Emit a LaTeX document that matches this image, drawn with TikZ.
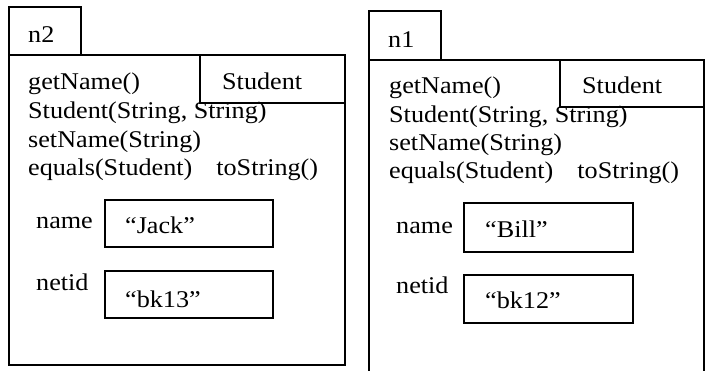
\documentclass[tikz,border=0pt]{standalone}
\usepackage{fontspec}
\setmainfont[FakeStretch=1.09]{Liberation Serif}
\begin{document}
\begin{tikzpicture}[x=1pt,y=-1pt,
  box/.style={draw,line width=1.4pt},
  txt/.style={anchor=base west,inner sep=0pt,font=\fontsize{24}{29}\selectfont}]
\useasboundingbox (0,0) rectangle (710,370);
% ---- n2 object (left)
\draw[box] (9,7) rectangle (81,55);
\draw[box] (9,55) rectangle (345,365);
\draw[box] (200,55) rectangle (345,103);
\node[txt] (n2lab) at (28,42) {n2};
\node[txt] (n2cls) at (222,89) {Student};
\node[txt] (n2m1) at (28,89) {getName()};
\node[txt] (n2m2) at (28,118) {Student(String, String)};
\node[txt] (n2m3) at (28,147) {setName(String)};
\node[txt] (n2m4) at (28,175) {equals(Student)\hspace{24pt}toString()};
\node[txt] (n2f1) at (36,228) {name};
\draw[box] (105,200) rectangle (273,247);
\node[txt] (n2v1) at (125,233) {“Jack”};
\node[txt] (n2f2) at (36,290) {netid};
\draw[box] (105,271) rectangle (273,318);
\node[txt] (n2v2) at (125,307) {“bk13”};
% ---- n1 object (right)
\draw[box] (369,11) rectangle (441,60);
\draw[box] (369,380) -- (369,60) -- (704,60) -- (704,380);
\draw[box] (560,60) rectangle (704,107);
\node[txt] (n1lab) at (388,47) {n1};
\node[txt] (n1cls) at (582,93) {Student};
\node[txt] (n1m1) at (389,93) {getName()};
\node[txt] (n1m2) at (389,122) {Student(String, String)};
\node[txt] (n1m3) at (389,150) {setName(String)};
\node[txt] (n1m4) at (389,178) {equals(Student)\hspace{24pt}toString()};
\node[txt] (n1f1) at (396,233) {name};
\draw[box] (464,203) rectangle (633,252);
\node[txt] (n1v1) at (485,237) {“Bill”};
\node[txt] (n1f2) at (396,293) {netid};
\draw[box] (464,275) rectangle (633,323);
\node[txt] (n1v2) at (485,308) {“bk12”};
\end{tikzpicture}
\end{document}
